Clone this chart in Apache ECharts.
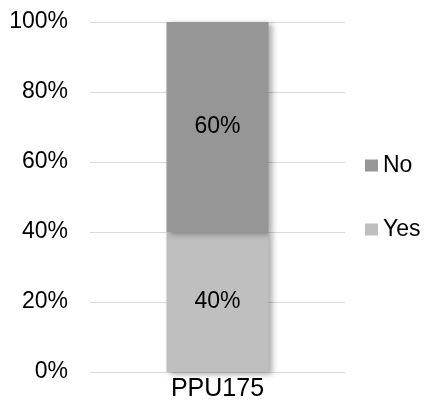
<!DOCTYPE html>
<html><head><meta charset="utf-8">
<script src="https://cdn.jsdelivr.net/npm/echarts@6/dist/echarts.min.js"></script>
<style>html,body{margin:0;padding:0;background:#fff}#c{width:425px;height:402px}</style>
</head><body><div id="c"></div>
<script>
var categories = ['PPU175'];
var yesValues = [40];
var noValues = [60];
var seriesNames = ['Yes', 'No'];
var yTicks = [0, 20, 40, 60, 80, 100];

var font = 'Liberation Sans, Arial, sans-serif';
var chart = echarts.init(document.getElementById('c'));
var shadow = {shadowBlur: 6, shadowOffsetX: 3, shadowOffsetY: 2, shadowColor: 'rgba(0,0,0,0.35)'};
chart.setOption({
  animation: false,
  grid: {left: 90, right: 80, top: 22, bottom: 28},
  legend: [
    {data: ['No'], left: 365, top: 154, padding: 0, orient: 'vertical', itemWidth: 13, itemHeight: 12, icon: 'rect', itemGap: 4,
     textStyle: {fontFamily: font, fontSize: 23, color: '#000'}},
    {data: ['Yes'], left: 365, top: 218, padding: 0, orient: 'vertical', itemWidth: 13, itemHeight: 12, icon: 'rect', itemGap: 4,
     textStyle: {fontFamily: font, fontSize: 23, color: '#000'}}
  ],
  xAxis: {type: 'category', data: categories,
    axisLine: {show: false}, axisTick: {show: false},
    axisLabel: {fontFamily: font, fontSize: 25, color: '#000', margin: 5}},
  yAxis: {type: 'value', min: yTicks[0], max: yTicks[yTicks.length - 1], interval: 20,
    axisLine: {show: false}, axisTick: {show: false},
    splitLine: {lineStyle: {color: '#d9d9d9', width: 1}},
    axisLabel: {fontFamily: font, fontSize: 23, color: '#000', margin: 22, formatter: '{value}%'}},
  series: [
    {name: seriesNames[0], type: 'bar', stack: 's', data: yesValues, barWidth: '40%',
     itemStyle: Object.assign({color: '#bfbfbf'}, shadow),
     label: {show: true, position: 'inside', formatter: '{c}%', fontFamily: font, fontSize: 23, color: '#000'}},
    {name: seriesNames[1], type: 'bar', stack: 's', data: noValues, barWidth: '40%',
     itemStyle: Object.assign({color: '#969696'}, shadow),
     label: {show: true, position: 'inside', formatter: '{c}%', fontFamily: font, fontSize: 23, color: '#000'}}
  ]
});
</script></body></html>
